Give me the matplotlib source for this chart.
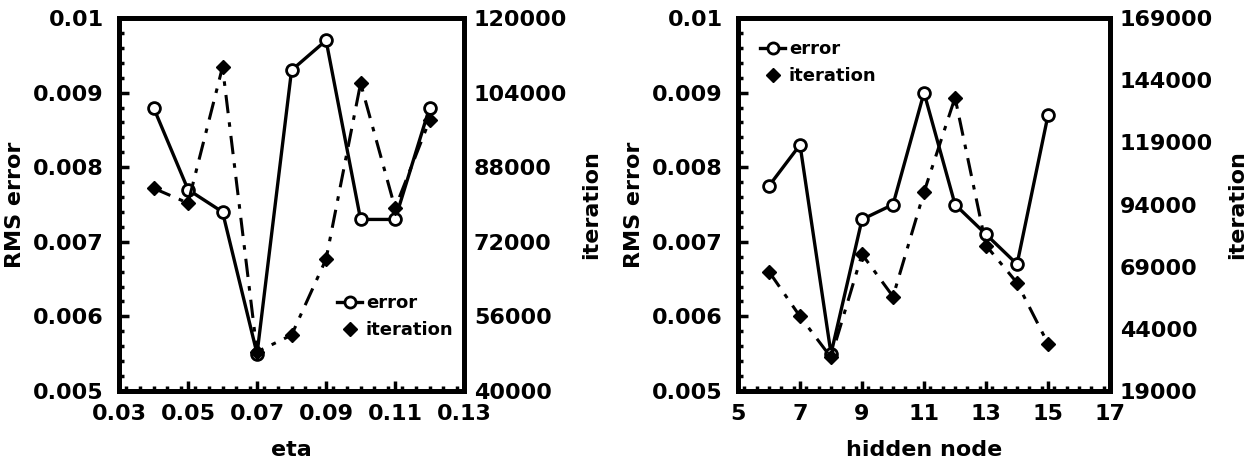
import matplotlib.pyplot as plt
from matplotlib.lines import Line2D
from matplotlib.ticker import FixedLocator, MultipleLocator, FuncFormatter

# left panel: learning rate
eta = [0.04, 0.05, 0.06, 0.07, 0.08, 0.09, 0.10, 0.11, 0.12]
eta_error = [0.0088, 0.0077, 0.0074, 0.0055, 0.0093, 0.0097, 0.0073, 0.0073, 0.0088]
eta_iter = [83500, 80300, 109500, 48400, 52000, 68300, 106000, 79200, 98100]

# right panel: hidden nodes
nodes = [6, 7, 8, 9, 10, 11, 12, 13, 14, 15]
node_error = [0.00775, 0.0083, 0.0055, 0.0073, 0.0075, 0.009, 0.0075, 0.0071, 0.0067, 0.0087]
node_iter = [67000, 49000, 32500, 74000, 57000, 99000, 137000, 77500, 62500, 38000]

eta_ticks = [0.03, 0.05, 0.07, 0.09, 0.11, 0.13]
node_ticks = [5, 7, 9, 11, 13, 15, 17]
err_ticks = [0.005, 0.006, 0.007, 0.008, 0.009, 0.01]
eta_iter_ticks = [40000, 56000, 72000, 88000, 104000, 120000]
node_iter_ticks = [19000, 44000, 69000, 94000, 119000, 144000, 169000]

plt.rcParams["font.family"] = ["DejaVu Sans"]
plt.rcParams["font.weight"] = "bold"

DASH = (0, (6, 3, 1.5, 3))


def panel(fig, rect, x, err, it, xticks, itticks, xminor, xlabel, legend_pos):
    ax = fig.add_axes(rect)
    ax2 = ax.twinx()
    ax.plot(x, err, color="black", lw=2.4, marker="o", ms=8.5, mfc="white",
            mec="black", mew=2, zorder=3)
    ax2.plot(x, it, color="black", lw=2.2, linestyle=DASH, marker="D", ms=7,
             mfc="black", mec="black", zorder=2)

    ax.set_xlim(xticks[0], xticks[-1])
    ax.set_ylim(err_ticks[0], err_ticks[-1])
    ax2.set_ylim(itticks[0], itticks[-1])
    ax.xaxis.set_major_locator(FixedLocator(xticks))
    ax.xaxis.set_minor_locator(MultipleLocator(xminor))
    ax.yaxis.set_major_locator(FixedLocator(err_ticks))
    ax.yaxis.set_minor_locator(MultipleLocator(0.0002))
    ax.xaxis.set_major_formatter(FuncFormatter(lambda v, p: f"{v:g}"))
    ax.yaxis.set_major_formatter(FuncFormatter(lambda v, p: f"{v:g}"))
    ax2.yaxis.set_major_locator(FixedLocator(itticks))
    ax2.yaxis.set_major_formatter(FuncFormatter(lambda v, p: f"{int(round(v))}"))

    ax.tick_params(which="major", direction="in", length=7, width=2.5,
                   labelsize=16, pad=9)
    ax.tick_params(which="minor", direction="in", length=3.5, width=2.5)
    ax.tick_params(axis="y", pad=11)
    ax2.tick_params(direction="in", length=0, labelsize=16, pad=7)
    for a in (ax, ax2):
        for s in a.spines.values():
            s.set_linewidth(3.5)

    ax.set_xlabel(xlabel, fontsize=16, fontweight="bold", labelpad=12)
    ax.set_ylabel("RMS error", fontsize=16, fontweight="bold", labelpad=6)
    ax2.set_ylabel("iteration", fontsize=16, fontweight="bold", labelpad=10)

    handles = [
        Line2D([], [], color="black", lw=2.4, marker="o", ms=8, mfc="white",
               mec="black", mew=2),
        Line2D([], [], color="black", linestyle="none", marker="D", ms=7),
    ]
    ax.legend(handles, ["error", "iteration"], loc=legend_pos[0],
              bbox_to_anchor=legend_pos[1], frameon=False, fontsize=13,
              handlelength=1.4, handletextpad=0.2, labelspacing=0.5,
              borderaxespad=0.2)
    return ax, ax2


fig = plt.figure(figsize=(12.46, 4.68), dpi=100)
panel(fig, [0.0955, 0.1645, 0.277, 0.797], eta, eta_error, eta_iter,
      eta_ticks, eta_iter_ticks, 0.004, "eta", ("center left", (0.6, 0.2)))
panel(fig, [0.5923, 0.1645, 0.2986, 0.797], nodes, node_error, node_iter,
      node_ticks, node_iter_ticks, 0.4, "hidden node", ("upper left", (0.03, 0.97)))

fig.savefig("out.png", dpi=100)
